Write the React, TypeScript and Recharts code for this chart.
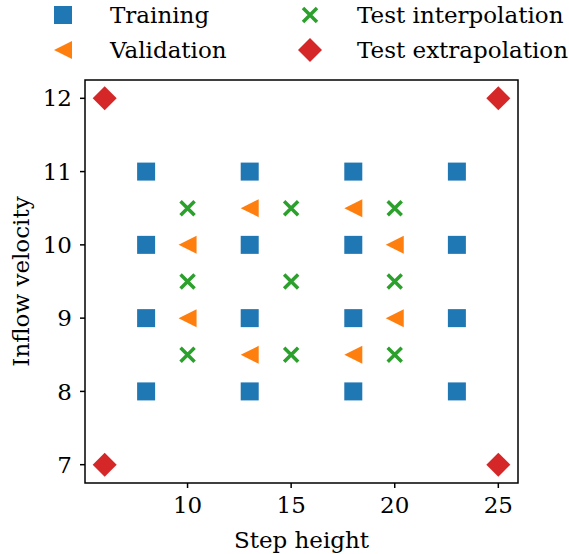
import React from "react";
import {
  ScatterChart,
  Scatter,
  XAxis,
  YAxis,
  ReferenceArea,
  Legend,
} from "recharts";

// step height (x) / inflow velocity (y)
const trainingX = [8, 8, 8, 8, 13, 13, 13, 13, 18, 18, 18, 18, 23, 23, 23, 23];
const trainingY = [8, 9, 10, 11, 8, 9, 10, 11, 8, 9, 10, 11, 8, 9, 10, 11];
const validationX = [10, 10, 13, 13, 18, 18, 20, 20];
const validationY = [9, 10, 8.5, 10.5, 8.5, 10.5, 9, 10];
const interpX = [10, 10, 10, 15, 15, 15, 20, 20, 20];
const interpY = [8.5, 9.5, 10.5, 8.5, 9.5, 10.5, 8.5, 9.5, 10.5];
const extrapX = [6, 6, 25, 25];
const extrapY = [7, 12, 7, 12];

const xTicks = [10, 15, 20, 25];
const yTicks = [7, 8, 9, 10, 11, 12];

const toPoints = (xs: number[], ys: number[]) =>
  xs.map((x, i) => ({ x, y: ys[i] }));

const BLUE = "#1f77b4";
const ORANGE = "#ff7f0e";
const GREEN = "#2ca02c";
const RED = "#d62728";
const FONT = "DejaVu Serif";

const Square = ({ cx, cy }: any) => (
  <rect x={cx - 9} y={cy - 9} width={18} height={18} fill={BLUE} />
);
const TriLeft = ({ cx, cy }: any) => (
  <polygon
    points={`${cx - 9},${cy} ${cx + 9},${cy - 9} ${cx + 9},${cy + 9}`}
    fill={ORANGE}
  />
);
const Cross = ({ cx, cy }: any) => (
  <path
    d={`M${cx - 7},${cy - 7}L${cx + 7},${cy + 7}M${cx - 7},${cy + 7}L${cx + 7},${cy - 7}`}
    stroke={GREEN}
    strokeWidth={3.5}
  />
);
const Diamond = ({ cx, cy }: any) => (
  <polygon
    points={`${cx},${cy - 12} ${cx + 12},${cy} ${cx},${cy + 12} ${cx - 12},${cy}`}
    fill={RED}
  />
);

const legendItems = [
  { name: "Training", Shape: Square, col: 0, row: 0 },
  { name: "Validation", Shape: TriLeft, col: 0, row: 1 },
  { name: "Test interpolation", Shape: Cross, col: 1, row: 0 },
  { name: "Test extrapolation", Shape: Diamond, col: 1, row: 1 },
];

const textStyle: React.CSSProperties = {
  fontFamily: FONT,
  fontSize: 23,
};

const LegendBox = () => (
  <svg width={569} height={70}>
    {legendItems.map((it) => {
      const mx = it.col === 0 ? 63 : 310;
      const tx = it.col === 0 ? 110 : 357;
      const cy = it.row === 0 ? 15 : 50;
      const S = it.Shape;
      return (
        <g key={it.name}>
          <S cx={mx} cy={cy} />
          <text x={tx} y={cy + 8} style={textStyle} fill="#000">
            {it.name}
          </text>
        </g>
      );
    })}
  </svg>
);

const XTitle = ({ viewBox }: any) => (
  <text
    x={viewBox.x + viewBox.width / 2}
    y={548}
    textAnchor="middle"
    style={textStyle}
    fill="#000"
  >
    Step height
  </text>
);

const YTitle = ({ viewBox }: any) => {
  const cy = viewBox.y + viewBox.height / 2;
  return (
    <text
      x={29}
      y={cy}
      transform={`rotate(-90, 29, ${cy})`}
      textAnchor="middle"
      style={textStyle}
      fill="#000"
    >
      Inflow velocity
    </text>
  );
};

const tickStyle = { fontFamily: FONT, fontSize: 23, fill: "#000" };

export default function App() {
  return (
    <div style={{ position: "absolute", left: 0, top: 0 }}>
      <ScatterChart
        width={569}
        height={554}
        margin={{ top: 80, right: 51, bottom: 1, left: 25 }}
        style={{ fontFamily: FONT }}
      >
        <XAxis
          type="number"
          dataKey="x"
          domain={[5.05, 25.95]}
          ticks={xTicks}
          allowDataOverflow
          height={70}
          tickSize={5}
          tickMargin={9}
          axisLine={false}
          tickLine={{ stroke: "#000", strokeWidth: 1.5 }}
          tick={tickStyle}
          label={{ content: XTitle }}
        />
        <YAxis
          type="number"
          dataKey="y"
          domain={[6.75, 12.25]}
          ticks={yTicks}
          allowDataOverflow
          width={60}
          tickSize={5}
          tickMargin={8}
          axisLine={false}
          tickLine={{ stroke: "#000", strokeWidth: 1.5 }}
          tick={tickStyle}
          label={{ content: YTitle }}
        />
        <ReferenceArea
          x1={5.05}
          x2={25.95}
          y1={6.75}
          y2={12.25}
          fill="none"
          stroke="#000"
          strokeWidth={1.5}
          fillOpacity={0}
        />
        <Legend
          layout="vertical"
          align="center"
          verticalAlign="middle"
          wrapperStyle={{ top: 0, left: 0, width: 569, height: 70 }}
          content={() => <LegendBox />}
        />
        <Scatter
          name="Training"
          data={toPoints(trainingX, trainingY)}
          shape={Square}
          isAnimationActive={false}
        />
        <Scatter
          name="Validation"
          data={toPoints(validationX, validationY)}
          shape={TriLeft}
          isAnimationActive={false}
        />
        <Scatter
          name="Test interpolation"
          data={toPoints(interpX, interpY)}
          shape={Cross}
          isAnimationActive={false}
        />
        <Scatter
          name="Test extrapolation"
          data={toPoints(extrapX, extrapY)}
          shape={Diamond}
          isAnimationActive={false}
        />
      </ScatterChart>
    </div>
  );
}
